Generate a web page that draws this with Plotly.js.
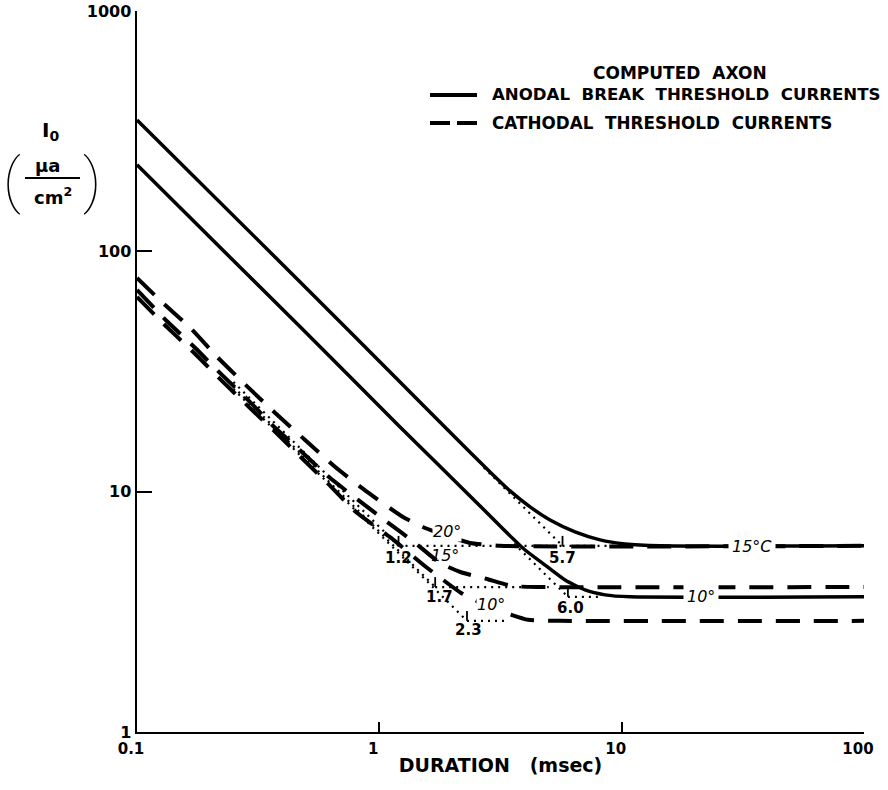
<!DOCTYPE html>
<html><head><meta charset="utf-8">
<script src="https://cdn.plot.ly/plotly-3.0.1.min.js"></script>
<style>html,body{margin:0;padding:0;background:#fff}#chart{width:888px;height:790px}</style>
</head><body><div id="chart"></div>
<script>
// ---- data ----
// anodal break threshold currents (solid)
const anodal15_t = [0.1, 0.471, 1.217, 2.368, 2.863, 3.462, 4.188, 5.064, 6.42, 8.145, 10.33, 14.4, 100];
const anodal15_I = [352, 74.6, 28.6, 14.6, 12.08, 10.07, 8.64, 7.62, 6.80, 6.30, 6.06, 5.95, 5.95];
const anodal10_t = [0.1, 0.471, 1.217, 2.604, 3.303, 3.994, 4.830, 5.84, 7.06, 8.54, 10.83, 100];
const anodal10_I = [229, 48.5, 18.6, 8.72, 6.86, 5.72, 4.95, 4.29, 3.90, 3.72, 3.65, 3.65];
// cathodal threshold currents (dashed)
const cath20_t = [0.1, 0.124, 0.166, 0.214, 0.284, 0.371, 0.494, 0.656, 0.890, 1.252, 1.544, 1.958, 2.368, 3.148, 100];
const cath20_I = [77.5, 62.8, 48.0, 36.4, 27.5, 21.3, 16.4, 12.7, 9.97, 7.85, 7.06, 6.48, 6.12, 5.95, 5.95];
const cath15_t = [0.1, 0.134, 0.174, 0.222, 0.287, 0.364, 0.480, 0.620, 0.817, 1.076, 1.391, 1.781, 2.174, 2.783, 3.529, 4.605, 100];
const cath15_I = [69.1, 50.8, 39.6, 30.9, 24.1, 18.8, 14.6, 11.5, 9.24, 7.48, 6.17, 5.05, 4.62, 4.33, 4.05, 4.01, 4.01];
const cath10_t = [0.1, 0.134, 0.174, 0.222, 0.287, 0.368, 0.475, 0.614, 0.801, 1.118, 1.559, 2.174, 2.730, 3.239, 4.109, 5.569, 100];
const cath10_I = [64.6, 48.0, 37.4, 29.2, 22.7, 17.9, 13.9, 10.8, 8.23, 6.42, 4.86, 3.79, 3.38, 3.16, 2.93, 2.90, 2.90];
// knee (intersection) points and the dotted construction lines
const knee_t = [1.2, 1.7, 2.3, 5.7, 6.0];
const knee_I = [5.95, 4.01, 2.90, 5.95, 3.65];
const knee_text = ['1.2', '1.7', '2.3', '5.7', '6.0'];
const asym_start_t = [0.25, 0.25, 0.25, 2.7, 3.6];
const asym_start_I = [28.6, 27.3, 26.7, 12.6, 6.08];
const flat_end_t = [5.7, 5.0, 3.4, 10, 8.0];
// axis ticks
const xTicks = [0.1, 1, 10, 100];
const xTickText = ['0.1', '1', '10', '100'];
const yTicks = [1, 10, 100, 1000];
const yTickText = ['1', '10', '100', '1000'];

// ---- styling ----
const FONT = 'DejaVu Sans';
const L = 137, R = 864, T = 11, B = 732;
const W = 888, H = 790;
const px = x => (x - L) / (R - L);
const py = y => (B - y) / (B - T);
const TICK = 1.1;

function tr(x, y, dash, width, smooth) {
  return {x: x, y: y, type: 'scatter', mode: 'lines', hoverinfo: 'skip', showlegend: false,
    line: {color: '#000', width: width, dash: dash, shape: smooth ? 'spline' : 'linear', smoothing: 0.5}};
}
const traces = [];
for (let i = 0; i < knee_t.length; i++) {
  traces.push(tr([asym_start_t[i], knee_t[i]], [asym_start_I[i], knee_I[i]], '2px,5px', 2.2, false));
  traces.push(tr([knee_t[i], flat_end_t[i]], [knee_I[i], knee_I[i]], '2px,5px', 2.2, false));
  traces.push(tr([knee_t[i], knee_t[i]], [knee_I[i], knee_I[i] * TICK], 'solid', 1.8, false));
}
const DASH = '24px,14px';
traces.push(tr(cath20_t, cath20_I, DASH, 4, true));
traces.push(tr(cath15_t, cath15_I, DASH, 4, true));
traces.push(tr(cath10_t, cath10_I, DASH, 4, true));
traces.push(tr(anodal15_t, anodal15_I, 'solid', 3.5, true));
traces.push(tr(anodal10_t, anodal10_I, 'solid', 3.5, true));

const bold = (s) => ({family: FONT, size: s, color: '#000', weight: 'bold'});
const ital = (s) => ({family: FONT, size: s, color: '#000', style: 'italic'});
const ann = [];
function pa(x, y, text, font, extra) {
  ann.push(Object.assign({xref: 'paper', yref: 'paper', x: px(x), y: py(y), text: text, showarrow: false,
    font: font, xanchor: 'center', yanchor: 'middle'}, extra || {}));
}
// legend
pa(680, 73, 'COMPUTED\u00a0\u00a0AXON', bold(17));
pa(490, 95, 'ANODAL\u00a0\u00a0BREAK\u00a0\u00a0THRESHOLD\u00a0\u00a0CURRENTS', bold(16.6), {xanchor: 'left'});
pa(490, 123, 'CATHODAL\u00a0\u00a0THRESHOLD\u00a0\u00a0CURRENTS', bold(16.8), {xanchor: 'left'});
// y-axis title
pa(50, 131, 'I<sub>0</sub>', bold(20));
pa(47, 165, 'μa', bold(18));
pa(53, 196, 'cm<sup>2</sup>', bold(18));
pa(12, 180, '(', {family: 'Roboto', size: 60, color: '#000', weight: 100});
pa(92, 180, ')', {family: 'Roboto', size: 60, color: '#000', weight: 100});
// temperature labels
pa(447, 531, '20°', ital(16), {bgcolor: '#fff', borderpad: 0});
pa(445, 555, '15°', ital(16));
pa(491, 604, '10°', ital(16), {bgcolor: '#fff', borderpad: 0});
pa(752, 546, '15°C', ital(16), {bgcolor: '#fff', borderpad: 3});
pa(701, 596, '10°', ital(16), {bgcolor: '#fff', borderpad: 3});
// knee labels
const knee_dx = [0, 4, 2, 0, 3];
const knee_dy = [-12, -10, -9, -12, -11];
for (let i = 0; i < knee_t.length; i++) {
  ann.push({xref: 'x', yref: 'y', x: Math.log10(knee_t[i]), y: Math.log10(knee_I[i]), text: knee_text[i],
    showarrow: false, xanchor: 'center', yanchor: 'middle', xshift: knee_dx[i], yshift: knee_dy[i], font: bold(15)});
}

const shapes = [
  {type: 'line', xref: 'paper', yref: 'paper', x0: px(25), x1: px(80), y0: py(178), y1: py(178), line: {color: '#000', width: 2}},
  {type: 'line', xref: 'paper', yref: 'paper', x0: px(430), x1: px(477), y0: py(95), y1: py(95), line: {color: '#000', width: 4}},
  {type: 'line', xref: 'paper', yref: 'paper', x0: px(430), x1: px(477), y0: py(123), y1: py(123), line: {color: '#000', width: 4, dash: '20px,7px'}}
];

const layout = {
  width: W, height: H,
  margin: {l: L, r: W - R, t: T, b: H - B},
  paper_bgcolor: '#fff', plot_bgcolor: '#fff',
  showlegend: false,
  xaxis: {type: 'log', range: [-1, 2], showgrid: false, zeroline: false,
    showline: true, linecolor: '#000', linewidth: 2,
    ticks: 'inside', ticklen: 10, tickwidth: 2, tickcolor: '#000',
    tickvals: xTicks, ticktext: xTickText, tickfont: bold(15), ticklabelshift: -6, ticklabelstandoff: 2,
    title: {text: 'DURATION\u00a0\u00a0\u00a0(msec)', font: bold(19), standoff: 2}},
  yaxis: {type: 'log', range: [0, 3], showgrid: false, zeroline: false,
    showline: true, linecolor: '#000', linewidth: 2.5,
    ticks: 'inside', ticklen: 15, tickwidth: 2, tickcolor: '#000',
    tickvals: yTicks, ticktext: yTickText, tickfont: bold(16)},
  annotations: ann,
  shapes: shapes
};
Plotly.newPlot('chart', traces, layout, {displayModeBar: false, staticPlot: true});
</script></body></html>
